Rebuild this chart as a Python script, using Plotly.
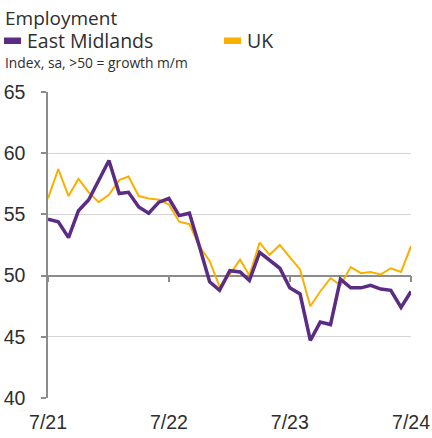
import plotly.graph_objects as go
import pandas as pd

months = pd.date_range("2021-07-01", "2024-07-01", freq="MS")
east_midlands = [54.6, 54.4, 53.1, 55.3, 56.2, 57.8, 59.4, 56.7, 56.8, 55.6, 55.1, 56.0, 56.3,
                 54.9, 55.1, 52.4, 49.5, 48.8, 50.4, 50.3, 49.6, 51.9, 51.3, 50.6, 49.0,
                 48.5, 44.7, 46.2, 46.0, 49.7, 49.0, 49.0, 49.2, 48.9, 48.8, 47.4, 48.7]
uk = [56.3, 58.7, 56.5, 57.9, 56.8, 56.0, 56.6, 57.8, 58.1, 56.5, 56.3, 56.2, 55.8,
      54.4, 54.2, 52.4, 51.2, 49.1, 50.1, 51.3, 50.0, 52.7, 51.7, 52.5, 51.5,
      50.5, 47.5, 48.7, 49.8, 49.2, 50.7, 50.2, 50.3, 50.1, 50.6, 50.3, 52.4]
series_names = ["East Midlands", "UK"]
y_ticks = [40, 45, 50, 55, 60, 65]
x_ticks = ["2021-07-01", "2022-07-01", "2023-07-01", "2024-07-01"]
x_labels = ["7/21", "7/22", "7/23", "7/24"]

PURPLE = "#5B2C83"
ORANGE = "#FBB000"
GRID = "#D4D4D4"
AXIS = "#8C8C8C"
TXT = "#2E2E2E"
TITLE_FONT = "'Open Sans', 'Noto Sans', sans-serif"

W, H = 432, 438
L, R, T, B = 48, 21, 92, 40
PW, PH = W - L - R, H - T - B


def px_x(p):
    return (p - L) / PW


def px_y(p):
    return (H - B - p) / PH


fig = go.Figure()
fig.add_trace(go.Scatter(x=months, y=uk, mode="lines", line=dict(color=ORANGE, width=2),
                         name=series_names[1], showlegend=False, hoverinfo="skip"))
fig.add_trace(go.Scatter(x=months, y=east_midlands, mode="lines",
                         line=dict(color=PURPLE, width=3.5), name=series_names[0],
                         showlegend=False, hoverinfo="skip"))
# secondary x axis drawn at y=50 carrying the tick marks
fig.add_trace(go.Scatter(x=months, y=[None] * len(months), xaxis="x2", showlegend=False,
                         hoverinfo="skip"))

shapes = []
annotations = [
    dict(text="Employment", xref="paper", yref="paper", x=px_x(3), y=px_y(17.5),
         xanchor="left", yanchor="middle", showarrow=False,
         font=dict(family=TITLE_FONT, size=19, color=TXT)),
    dict(text="Index, sa, >50 = growth m/m", xref="paper", yref="paper", x=px_x(3), y=px_y(62.5),
         xanchor="left", yanchor="middle", showarrow=False,
         font=dict(family=TITLE_FONT, size=13.8, color=TXT)),
]
# legend (swatch + label)
for name, col, sx in [(series_names[0], PURPLE, 4), (series_names[1], ORANGE, 224)]:
    shapes.append(dict(type="rect", xref="paper", yref="paper",
                       x0=px_x(sx), x1=px_x(sx + 17), y0=px_y(44), y1=px_y(37.5),
                       fillcolor=col, line=dict(width=0)))
    annotations.append(dict(text=name, xref="paper", yref="paper", x=px_x(sx + 21), y=px_y(41),
                            xanchor="left", yanchor="middle", showarrow=False,
                            font=dict(family=TITLE_FONT, size=19.5, color=TXT)))

fig.update_layout(
    width=W, height=H,
    margin=dict(l=L, r=R, t=T, b=B, autoexpand=False),
    plot_bgcolor="white", paper_bgcolor="white",
    showlegend=False,
    xaxis=dict(type="date", range=[x_ticks[0], x_ticks[-1]], tickvals=x_ticks, ticktext=x_labels,
               showgrid=False, zeroline=False, showline=False, ticks="",
               ticklabelstandoff=10,
               tickfont=dict(family="Liberation Sans, Arial", size=19.5, color=TXT)),
    xaxis2=dict(type="date", range=[x_ticks[0], x_ticks[-1]], tickvals=x_ticks,
                overlaying="x", anchor="free", position=0.4, showline=True, linecolor=AXIS,
                linewidth=1.5, ticks="outside", ticklen=6, tickcolor=AXIS, tickwidth=1.5,
                showticklabels=False, showgrid=False, layer="below traces"),
    yaxis=dict(range=[40, 65], tickvals=y_ticks, showgrid=True, gridcolor=GRID, gridwidth=1.3,
               zeroline=False, showline=True, linecolor=AXIS, linewidth=1.5,
               ticks="outside", ticklen=5, tickcolor=AXIS, tickwidth=1.5,
               ticklabelstandoff=12,
               tickfont=dict(family="Liberation Sans, Arial", size=19.5, color=TXT)),
    shapes=shapes,
    annotations=annotations,
)

fig.write_html("out.html", config={"displayModeBar": False},
               post_script="document.body.style.margin='0';")
